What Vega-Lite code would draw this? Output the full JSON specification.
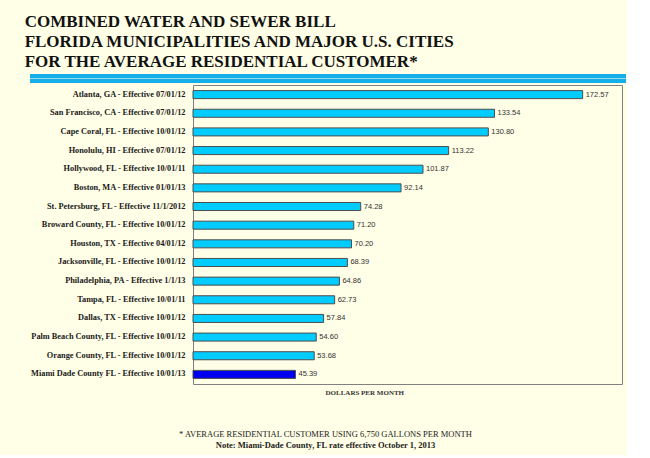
{
  "$schema": "https://vega.github.io/schema/vega-lite/v6.json",
  "background": "#FFFEE6",
  "padding": {"left": 24, "top": 13, "right": 0, "bottom": 5},
  "title": {
    "text": ["COMBINED WATER AND SEWER BILL", "FLORIDA MUNICIPALITIES AND MAJOR U.S. CITIES", "FOR THE AVERAGE RESIDENTIAL CUSTOMER*"],
    "anchor": "start",
    "frame": "bounds",
    "font": "Liberation Serif",
    "fontSize": 17,
    "fontWeight": "bold",
    "color": "#111111",
    "lineHeight": 20,
    "offset": 3,
    "dx": -5
  },
  "config": {"view": {"stroke": null}},
  "spacing": 1,
  "vconcat": [
    {
      "width": 429,
      "height": 9,
      "data": {"values": [{"stripe": "a"}, {"stripe": "b"}]},
      "mark": {"type": "rect", "color": "#16AEEA"},
      "encoding": {
        "x": {"datum": -72.2, "type": "quantitative", "scale": {"domain": [0, 190], "nice": false, "zero": false}, "axis": null},
        "x2": {"datum": 191.8},
        "y": {"field": "stripe", "type": "nominal", "axis": null, "scale": {"paddingInner": 0.15, "paddingOuter": 0}}
      }
    },
    {
      "width": 429,
      "height": 299,
      "view": {"stroke": "#808080", "strokeWidth": 1},
      "title": {
        "text": "* AVERAGE RESIDENTIAL CUSTOMER USING 6,750 GALLONS PER MONTH",
        "subtitle": "Note:  Miami-Dade County, FL rate effective October 1, 2013",
        "orient": "bottom",
        "anchor": "middle",
        "dx": -82,
        "font": "Liberation Serif",
        "fontSize": 8.5,
        "fontWeight": "normal",
        "color": "#222222",
        "subtitleFont": "Liberation Serif",
        "subtitleFontSize": 8.5,
        "subtitleFontWeight": "bold",
        "subtitleColor": "#222222",
        "subtitlePadding": 2,
        "offset": 35
      },
      "data": {
        "values": [
          {"city": "Atlanta, GA - Effective 07/01/12", "bill": 172.57},
          {"city": "San Francisco, CA - Effective 07/01/12", "bill": 133.54},
          {"city": "Cape Coral, FL - Effective 10/01/12", "bill": 130.80},
          {"city": "Honolulu, HI - Effective 07/01/12", "bill": 113.22},
          {"city": "Hollywood, FL - Effective 10/01/11", "bill": 101.87},
          {"city": "Boston, MA - Effective 01/01/13", "bill": 92.14},
          {"city": "St. Petersburg, FL - Effective 11/1/2012", "bill": 74.28},
          {"city": "Broward County, FL - Effective 10/01/12", "bill": 71.20},
          {"city": "Houston, TX - Effective 04/01/12", "bill": 70.20},
          {"city": "Jacksonville, FL - Effective 10/01/12", "bill": 68.39},
          {"city": "Philadelphia, PA - Effective 1/1/13", "bill": 64.86},
          {"city": "Tampa, FL - Effective 10/01/11", "bill": 62.73},
          {"city": "Dallas, TX - Effective 10/01/12", "bill": 57.84},
          {"city": "Palm Beach County, FL - Effective 10/01/12", "bill": 54.60},
          {"city": "Orange County, FL - Effective 10/01/12", "bill": 53.68},
          {"city": "Miami Dade County FL - Effective 10/01/13", "bill": 45.39}
        ]
      },
      "encoding": {
        "y": {
          "field": "city",
          "type": "nominal",
          "sort": null,
          "scale": {"paddingInner": 0.57, "paddingOuter": 0.3},
          "axis": {
            "title": null,
            "ticks": false,
            "domain": false,
            "labelPadding": 8,
            "labelLimit": 400,
            "labelFont": "Liberation Serif",
            "labelFontSize": 8.3,
            "labelFontWeight": "bold",
            "labelColor": "#1a1a1a"
          }
        },
        "x": {
          "field": "bill",
          "type": "quantitative",
          "scale": {"domain": [0, 190], "nice": false},
          "axis": {
            "title": "DOLLARS PER MONTH",
            "labels": false,
            "ticks": false,
            "domain": false,
            "grid": false,
            "titleFont": "Liberation Serif",
            "titleFontSize": 7,
            "titleFontWeight": "bold",
            "titleColor": "#333333",
            "titleAnchor": "start",
            "titleAlign": "left",
            "titleX": 132,
            "titlePadding": 4
          }
        }
      },
      "layer": [
        {
          "mark": {"type": "bar", "stroke": "#4d4d4d", "strokeWidth": 1},
          "encoding": {
            "color": {
              "condition": {"test": "datum.city === 'Miami Dade County FL - Effective 10/01/13'", "value": "#0000F0"},
              "value": "#00CCFF"
            }
          }
        },
        {
          "mark": {"type": "text", "align": "left", "baseline": "middle", "dx": 3, "font": "Liberation Sans", "fontSize": 7.5, "color": "#333333"},
          "encoding": {
            "text": {"field": "bill", "type": "quantitative", "format": ".2f"}
          }
        }
      ]
    }
  ]
}
